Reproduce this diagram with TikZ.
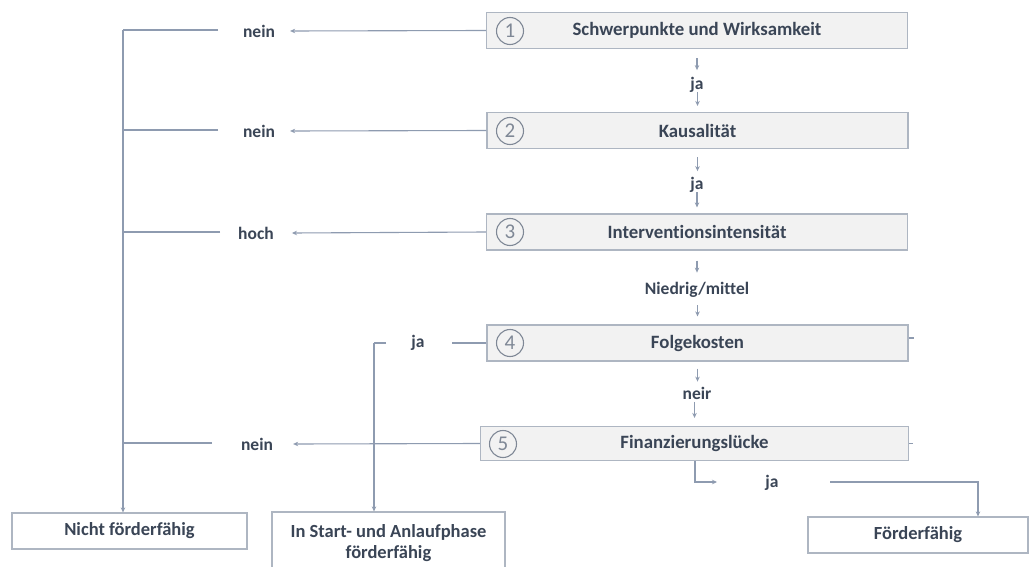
\documentclass[tikz,border=0pt]{standalone}
\usepackage{fontspec}
\setmainfont{Carlito}[Ligatures=NoCommon]
\usetikzlibrary{arrows.meta}
\definecolor{lncol}{HTML}{8E9BB0}
\definecolor{txcol}{HTML}{3A4556}
\definecolor{bxcol}{HTML}{F2F2F2}
\definecolor{bdcol}{HTML}{AEB6C2}
\definecolor{numcol}{HTML}{7F8896}
\begin{document}
\begin{tikzpicture}[x=1pt,y=-1pt,
  stepbox/.style={draw=bdcol, fill=bxcol, line width=1.2pt, minimum width=421pt, minimum height=36pt, font=\fontsize{18.8}{22}\selectfont\bfseries, text=txcol, inner sep=0pt},
  endbox/.style={draw=bdcol, fill=white, line width=1.2pt, font=\fontsize{18.5}{21.5}\selectfont\bfseries, text=txcol, align=center, inner sep=0pt},
  lab/.style={font=\fontsize{17.5}{20}\selectfont\bfseries, text=txcol, inner sep=0pt},
  conn/.style={draw=lncol, line width=1.1pt},
  arr/.style={conn, -{Stealth[length=5pt,width=4.5pt]}},
  numc/.style={circle, draw=numcol, line width=1.1pt, minimum size=27pt, inner sep=0pt, font=\fontsize{21}{21}\selectfont, text=numcol}]
\fill[white] (0,0) rectangle (1030,567);
\useasboundingbox (0,0) rectangle (1030,567);

% decision boxes
\node[stepbox] (b1) at (697,30.5) {Schwerpunkte und Wirksamkeit};
\node[stepbox] (b2) at (697.5,130.5) {Kausalität};
\node[stepbox] (b3) at (697,232) {Interventionsintensität};
\node[stepbox] (b4) at (697.5,343) {Folgekosten};
\node[stepbox, minimum width=428pt, minimum height=34pt] (b5) at (694.5,443.5) {Finanzierungslücke};

\node[numc] (c1) at (510,31) {1};
\node[numc] (c2) at (510,131) {2};
\node[numc] (c3) at (510,232) {3};
\node[numc] (c4) at (510,343) {4};
\node[numc] (c5) at (503,444) {5};

% result boxes
\node[endbox, minimum width=235pt, minimum height=36pt] (nf) at (129.5,531) {Nicht förderfähig};
\node[endbox, minimum width=233pt, minimum height=62pt] (sa) at (388.5,543) {In Start- und Anlaufphase\\förderfähig};
\node[endbox, minimum width=220pt, minimum height=36pt] (ff) at (918,535) {Förderfähig};

% labels
\node[lab] (n1) at (259,31) {nein};
\node[lab] (n2) at (259,131) {nein};
\node[lab] (h3) at (256,233) {hoch};
\node[lab] (j4) at (418,343) {ja};
\node[lab] (n5) at (257,444) {nein};
\node[lab] (y1) at (697,85) {ja};
\node[lab] (y2) at (697,185) {ja};
\node[lab] (nm) at (697,290) {Niedrig/mittel};
\node[lab] (ne) at (697,393) {neir};
\node[lab] (y5) at (772,483) {ja};

% left trunk
\coordinate (t1) at (123,30);
\coordinate (e1) at (218,30);
\coordinate (e2) at (218,130);
\coordinate (e3) at (220,232);
\coordinate (e5) at (212,443);
\draw[conn] (e1) -- (t1);
\draw[arr] (t1) -- (t1 |- nf.north);
\draw[conn] (e2) -- (e2 -| t1);
\draw[conn] (e3) -- (e3 -| t1);
\draw[conn] (e5) -- (e5 -| t1);

% arrows from the boxes to the left labels
\draw[arr] (b1.west) -- ([xshift=15pt]n1.east);
\draw[arr] (b2.west) -- ([xshift=15pt]n2.east);
\draw[arr] (b3.west) -- ([xshift=18pt]h3.east);
\draw[arr] (b5.west) -- ([xshift=20pt]n5.east);

% Folgekosten: ja
\coordinate (r4) at (452,343);
\coordinate (s4) at (386,343);
\coordinate (t4) at (374,343);
\draw[conn] (b4.west) -- (r4);
\draw[conn] (s4) -- (t4);
\draw[arr] (t4) -- (t4 |- sa.north);

% central chain
\draw[arr] ([yshift=-9pt]b1.south) -- ++(0,12);
\draw[arr] ([yshift=20pt]b2.north) -- ([yshift=6pt]b2.north);
\draw[arr] ([yshift=-8pt]b2.south) -- ++(0,14);
\draw[arr] ([yshift=21pt]b3.north) -- ([yshift=6pt]b3.north);
\draw[arr] ([yshift=-10pt]b3.south) -- ++(0,12);
\draw[arr] ([yshift=19pt]b4.north) -- ([yshift=8pt]b4.north);
\draw[arr] ([yshift=-7pt]b4.south) -- ++(0,13);
\draw[arr] ([yshift=24pt]b5.north) -- ([yshift=8pt]b5.north);

% Finanzierungslücke: ja
\coordinate (k5) at (695,482);
\coordinate (a5) at (717,482);
\coordinate (q5) at (830,482);
\coordinate (p5) at (978,482);
\draw[arr] (b5.south -| k5) -- (k5) -- (a5);
\draw[arr] (q5) -- (p5) -- (p5 |- ff.north);

% small ticks on the right of boxes 4 and 5
\draw[conn] ([yshift=5pt]b4.east) -- ++(5,0);
\draw[conn] (b5.east) -- ++(4,0);
\end{tikzpicture}
\end{document}
